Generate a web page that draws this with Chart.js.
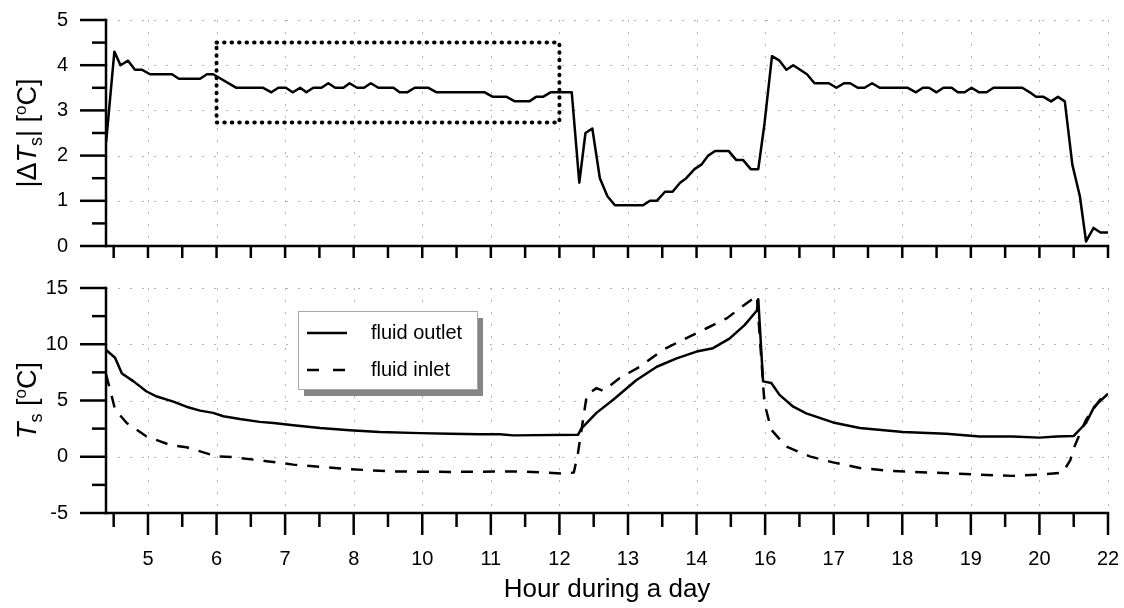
<!DOCTYPE html>
<html><head><meta charset="utf-8">
<script src="https://cdn.jsdelivr.net/npm/chart.js@4.4.1/dist/chart.umd.min.js"></script>
<style>
html,body{margin:0;padding:0;background:#fff;overflow:hidden;width:1124px;height:608px}
#c1{position:absolute;left:0;top:0}
#c2{position:absolute;left:0;top:270px}
</style>
</head><body>
<canvas id="c1" width="1124" height="270"></canvas>
<canvas id="c2" width="1124" height="338"></canvas>
<script>
// ---- x axis: evenly spaced tick positions and their printed labels ----
const xTickPos = [5,6,7,8,9,10,11,12,13,14,15,16,17,18,19];
const xTickLabels = ['5','6','7','8','10','11','12','13','14','16','17','18','19','20','22'];
const xMin = 4.388, xMax = 19;

// ---- top panel: |dT_s| ----
const dtX = [4.39,4.51,4.60,4.71,4.81,4.91,5.03,5.35,5.45,5.76,
  5.86,5.95,6.29,6.68,6.80,6.90,7.01,7.11,7.22,7.31,
  7.41,7.53,7.63,7.73,7.85,7.94,8.05,8.15,8.25,8.36,
  8.58,8.67,8.78,8.89,9.09,9.21,9.91,10.03,10.23,10.35,
  10.56,10.66,10.76,10.87,11.18,11.29,11.38,11.48,11.59,11.70,
  11.81,12.22,12.32,12.42,12.54,12.65,12.76,12.85,12.97,13.07,
  13.17,13.27,13.47,13.58,13.68,13.79,13.90,13.99,14.10,14.21,
  14.31,14.41,14.51,14.61,14.72,14.93,15.04,15.15,15.24,15.35,
  15.45,15.56,15.67,16.08,16.20,16.30,16.39,16.50,16.60,16.72,
  16.81,16.91,17.01,17.12,17.23,17.33,17.75,17.86,17.95,18.06,
  18.17,18.27,18.37,18.48,18.59,18.68,18.79,18.89,19.00];
const dtY = [2.3,4.3,4.0,4.1,3.9,3.9,3.8,3.8,3.7,3.7,
  3.8,3.8,3.5,3.5,3.4,3.5,3.5,3.4,3.5,3.4,
  3.5,3.5,3.6,3.5,3.5,3.6,3.5,3.5,3.6,3.5,
  3.5,3.4,3.4,3.5,3.5,3.4,3.4,3.3,3.3,3.2,
  3.2,3.3,3.3,3.4,3.4,1.4,2.5,2.6,1.5,1.1,
  0.9,0.9,1.0,1.0,1.2,1.2,1.4,1.5,1.7,1.8,
  2.0,2.1,2.1,1.9,1.9,1.7,1.7,2.7,4.2,4.1,
  3.9,4.0,3.9,3.8,3.6,3.6,3.5,3.6,3.6,3.5,
  3.5,3.6,3.5,3.5,3.4,3.5,3.5,3.4,3.5,3.5,
  3.4,3.4,3.5,3.4,3.4,3.5,3.5,3.4,3.3,3.3,
  3.2,3.3,3.2,1.8,1.1,0.1,0.4,0.3,0.3];
// highlighted window (dotted rectangle)
const boxX = [6, 11, 11, 6, 6];
const boxY = [4.5, 4.5, 2.73, 2.73, 4.5];

// ---- bottom panel: T_s ----
const outX = [4.39,4.52,4.62,4.79,4.98,5.13,5.37,5.56,5.76,5.95,6.10,6.34,6.63,6.83,7.12,7.51,7.94,8.38,8.97,9.40,9.84,10.13,10.33,11.27,11.32,11.54,11.78,12.12,12.42,12.71,13.00,13.24,13.48,13.70,13.88,13.90,13.97,14.09,14.21,14.41,14.60,14.99,15.38,16.01,16.64,17.13,17.61,18.00,18.25,18.50,18.68,18.80,19.00];
const outY = [9.5,8.8,7.4,6.7,5.8,5.35,4.9,4.45,4.1,3.9,3.6,3.35,3.1,3.0,2.8,2.55,2.35,2.2,2.1,2.05,2.0,2.0,1.9,1.95,2.5,3.9,5.05,6.8,8.0,8.75,9.35,9.65,10.5,11.7,13.0,14.0,6.7,6.55,5.5,4.45,3.85,3.05,2.55,2.2,2.05,1.8,1.8,1.7,1.8,1.85,3.0,4.45,5.6];
const inX = [4.39,4.45,4.52,4.69,4.98,5.32,5.56,6.00,6.24,6.73,7.12,7.94,8.53,9.40,10.42,11.08,11.21,11.27,11.40,11.54,11.64,11.88,12.17,12.51,12.80,13.14,13.44,13.73,13.88,13.99,14.09,14.31,14.65,14.99,15.38,15.82,16.40,17.13,17.61,18.10,18.34,18.45,18.51,18.68,18.88,19.00];
const inY = [7.3,5.9,4.2,3.0,1.8,1.05,0.85,0.03,-0.03,-0.4,-0.7,-1.1,-1.3,-1.35,-1.3,-1.5,-1.4,0.3,5.5,6.1,5.85,7.0,8.0,9.5,10.4,11.4,12.3,13.65,14.3,4.75,2.4,0.9,0.03,-0.5,-1.0,-1.25,-1.4,-1.6,-1.7,-1.55,-1.4,-0.3,0.9,3.3,5.05,5.6];

const seriesNames = ['fluid outlet', 'fluid inlet'];
const topYTicks = [0,1,2,3,4,5];
const botYTicks = [-5,0,5,10,15];

const FONT = "'Liberation Sans', Arial, Helvetica, sans-serif";
const pts = (xs, ys) => xs.map((v, i) => ({x: v, y: ys[i]}));
function seg(ctx, x1, y1, x2, y2){ctx.beginPath();ctx.moveTo(x1,y1);ctx.lineTo(x2,y2);ctx.stroke();}

function drawRich(ctx, parts, bx, cy){
  ctx.save();
  let total = 0;
  for (const p of parts){ ctx.font = p.f; p.w = ctx.measureText(p.t).width; total += p.w; }
  ctx.translate(bx, cy); ctx.rotate(-Math.PI/2);
  ctx.fillStyle = '#000'; ctx.textBaseline = 'alphabetic'; ctx.textAlign = 'left';
  let xx = -total/2;
  for (const p of parts){ ctx.font = p.f; ctx.fillText(p.t, xx, p.dy || 0); xx += p.w; }
  ctx.restore();
}

const deco = {
  id: 'deco',
  beforeDatasetsDraw(chart, args, o){
    const {ctx, chartArea: a, scales: {x, y}} = chart;
    ctx.save();
    ctx.strokeStyle = '#b3b3b3'; ctx.lineWidth = 1; ctx.setLineDash([2, 10]);
    for (const v of xTickPos){ const px = Math.round(x.getPixelForValue(v)) + 0.5; seg(ctx, px, a.top, px, a.bottom); }
    for (const v of o.yGrid){ const py = Math.round(y.getPixelForValue(v)) + 0.5; seg(ctx, a.left, py, a.right, py); }
    ctx.restore();
  },
  afterDatasetsDraw(chart, args, o){
    const {ctx, chartArea: a, scales: {x, y}} = chart;
    ctx.save();
    ctx.strokeStyle = '#000'; ctx.lineWidth = 2.5; ctx.setLineDash([]); ctx.lineCap = 'butt';
    for (let k = 0; k <= (xMax - 4.5) * 2 + 1e-6; k++){
      const v = 4.5 + k * 0.5;
      const px = x.getPixelForValue(v);
      const len = (k % 2 === 1) ? o.xMaj : o.xMin;
      seg(ctx, px, a.bottom, px, a.bottom + len);
    }
    const nY = Math.round((y.max - y.min) / (o.yStep / 2));
    for (let k = 0; k <= nY; k++){
      const v = y.min + k * o.yStep / 2;
      const py = y.getPixelForValue(v);
      const len = (k % 2 === 0) ? 26 : 14;
      seg(ctx, a.left - len, py, a.left, py);
    }
    ctx.lineCap = 'square';
    seg(ctx, a.left, a.top, a.left, a.bottom);
    seg(ctx, a.left, a.bottom, a.right, a.bottom);
    ctx.restore();
    drawRich(ctx, o.title, 36, (a.top + a.bottom) / 2);
    if (o.legend){
      const lx = a.left + 192, ly = a.top + 23, w = 179, h = 78;
      ctx.save();
      ctx.fillStyle = '#858585'; ctx.fillRect(lx + 6, ly + 7, w, h);
      ctx.fillStyle = '#fff'; ctx.fillRect(lx, ly, w, h);
      ctx.strokeStyle = '#a8a8a8'; ctx.lineWidth = 1; ctx.strokeRect(lx + 0.5, ly + 0.5, w, h);
      ctx.strokeStyle = '#000'; ctx.lineWidth = 2.5;
      seg(ctx, lx + 9, ly + 22, lx + 49, ly + 22);
      ctx.setLineDash([12, 14]);
      seg(ctx, lx + 9, ly + 59, lx + 49, ly + 59);
      ctx.setLineDash([]);
      ctx.fillStyle = '#000'; ctx.font = `20px ${FONT}`; ctx.textBaseline = 'middle'; ctx.textAlign = 'left';
      ctx.fillText(seriesNames[0], lx + 73, ly + 22);
      ctx.fillText(seriesNames[1], lx + 73, ly + 59);
      ctx.restore();
    }
  }
};

const lineDs = (data, extra) => Object.assign({data, borderColor: '#000', borderWidth: 2.5, pointRadius: 0, tension: 0, fill: false, borderJoinStyle: 'round'}, extra || {});
const noPad = s => { s.paddingLeft = 0; s.paddingRight = 0; s.paddingTop = 0; s.paddingBottom = 0; };

function xScale(showLabels){
  return {
    type: 'linear', min: xMin, max: xMax,
    afterBuildTicks: s => { s.ticks = xTickPos.map(v => ({value: v})); },
    afterFit: s => { s.height = showLabels ? 95 : 24; noPad(s); },
    grid: {display: false, drawTicks: false}, border: {display: false},
    ticks: {display: showLabels, padding: 34, color: '#000', font: {family: FONT, size: 20},
      maxRotation: 0, autoSkip: false, callback: v => xTickLabels[xTickPos.indexOf(v)] ?? ''},
    title: {display: showLabels, text: 'Hour during a day', color: '#000', font: {family: FONT, size: 26}, padding: {top: 0, bottom: 3}}
  };
}
function yScale(min, max, ticks){
  return {
    type: 'linear', min, max,
    afterBuildTicks: s => { s.ticks = ticks.map(v => ({value: v})); },
    afterFit: s => { s.width = 106; noPad(s); },
    grid: {display: false, drawTicks: false}, border: {display: false},
    ticks: {padding: 38, color: '#000', font: {family: FONT, size: 20}}
  };
}

new Chart(document.getElementById('c1'), {
  type: 'line',
  data: {datasets: [
    lineDs(pts(dtX, dtY)),
    lineDs(pts(boxX, boxY), {borderWidth: 4, borderDash: [0.5, 7], borderCapStyle: 'round'})
  ]},
  options: {
    responsive: false, animation: false, devicePixelRatio: 1,
    layout: {padding: {top: 20, right: 16, left: 0, bottom: 0}},
    scales: {x: xScale(false), y: yScale(0, 5, topYTicks)},
    plugins: {legend: {display: false}, tooltip: {enabled: false},
      deco: {yGrid: [1,2,3,4,5], yStep: 1, xMaj: 12, xMin: 12,
        title: [{t:'|Δ', f:`27px ${FONT}`},{t:'T', f:`italic 27px ${FONT}`},{t:'s', f:`18px ${FONT}`, dy:6},{t:'| [', f:`27px ${FONT}`},{t:'o', f:`17px ${FONT}`, dy:-10},{t:'C]', f:`27px ${FONT}`}]}}
  },
  plugins: [deco]
});

new Chart(document.getElementById('c2'), {
  type: 'line',
  data: {datasets: [
    lineDs(pts(outX, outY), {label: seriesNames[0]}),
    lineDs(pts(inX, inY), {label: seriesNames[1], borderDash: [12, 10]})
  ]},
  options: {
    responsive: false, animation: false, devicePixelRatio: 1,
    layout: {padding: {top: 18, right: 16, left: 0, bottom: 0}},
    scales: {x: xScale(true), y: yScale(-5, 15, botYTicks)},
    plugins: {legend: {display: false}, tooltip: {enabled: false},
      deco: {yGrid: [0,5,10,15], yStep: 5, xMaj: 22, xMin: 14, legend: true,
        title: [{t:'T', f:`italic 27px ${FONT}`},{t:'s', f:`18px ${FONT}`, dy:6},{t:' [', f:`27px ${FONT}`},{t:'o', f:`17px ${FONT}`, dy:-10},{t:'C]', f:`27px ${FONT}`}]}}
  },
  plugins: [deco]
});
</script>
</body></html>
